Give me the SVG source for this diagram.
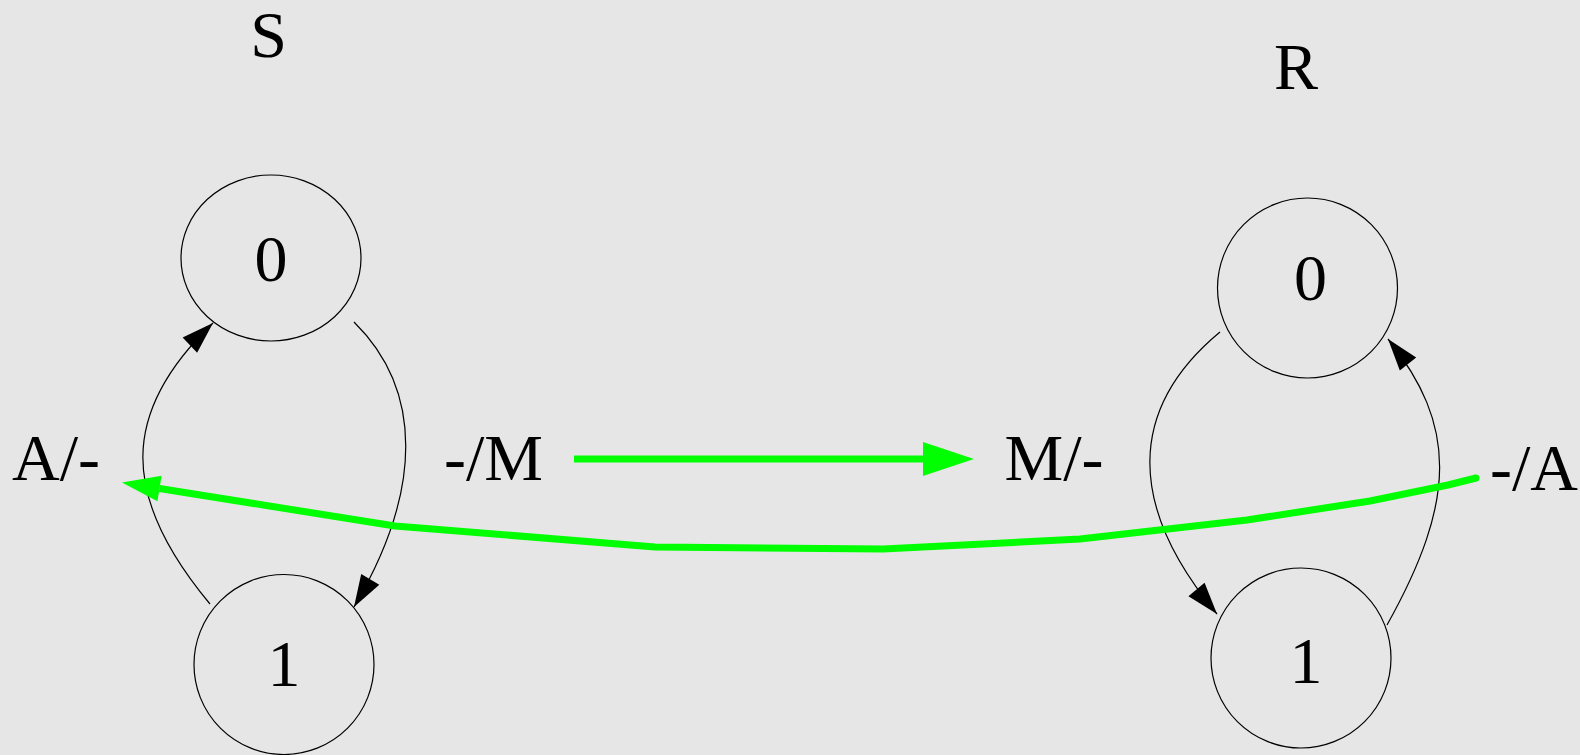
<svg xmlns="http://www.w3.org/2000/svg" width="1580" height="755" viewBox="0 0 1580 755">
<style>
.node{fill:none;stroke:#000;stroke-width:1.2}
.lbl{font-family:"Liberation Serif","Times New Roman",serif;font-size:66px;fill:#000;text-anchor:middle}
.arc{fill:none;stroke:#000;stroke-width:1.2}
.msg{fill:none;stroke:#00ff00;stroke-width:7}
</style>
<defs>
<marker id="ah" markerUnits="userSpaceOnUse" markerWidth="34" markerHeight="22" refX="32" refY="10.5" orient="auto" overflow="visible">
<path d="M0,0 L32,10.5 L0,21 Z" fill="#000"/>
</marker>
<marker id="gbig" markerUnits="userSpaceOnUse" markerWidth="52" markerHeight="35" refX="0" refY="17" orient="auto" overflow="visible">
<path d="M0,0 L51,17 L0,34 Z" fill="#00ff00"/>
</marker>
<marker id="gsmall" markerUnits="userSpaceOnUse" markerWidth="39" markerHeight="27" refX="0" refY="13" orient="auto" overflow="visible">
<path d="M0,0 L38,13 L0,26 Z" fill="#00ff00"/>
</marker>
</defs>
<rect x="0" y="0" width="1580" height="755" fill="#e6e6e6"/>
<text class="lbl" x="268.5" y="57">S</text>
<text class="lbl" x="1296" y="89">R</text>
<g id="S0">
<ellipse class="node" cx="271" cy="258" rx="90" ry="83"/>
<text class="lbl" x="271" y="281">0</text>
</g>
<g id="S1">
<circle class="node" cx="284" cy="664.5" r="90"/>
<text class="lbl" x="284" y="686">1</text>
</g>
<g id="R0">
<circle class="node" cx="1307.5" cy="288" r="90"/>
<text class="lbl" x="1310.5" y="300">0</text>
</g>
<g id="R1">
<circle class="node" cx="1301" cy="658" r="90"/>
<text class="lbl" x="1306" y="683">1</text>
</g>
<g id="connectors">
<path class="arc" d="M210,604 C120,496 120,412 213,323" marker-end="url(#ah)"/>
<path class="arc" d="M354,322 C423,390 423,490 354,607" marker-end="url(#ah)"/>
<path class="arc" d="M1220,332 C1127,409 1127,506 1217,614" marker-end="url(#ah)"/>
<path class="arc" d="M1387,625 C1457,500 1457,425 1388,339" marker-end="url(#ah)"/>
<path class="msg" d="M574,459 L923,459" marker-end="url(#gbig)"/>
<path class="msg" stroke-linejoin="round" d="M1476,478 L1448,485 L1370,501 L1247,520 L1080,539 L883,549 L655,547 L395,526 L159.5,488.5" marker-end="url(#gsmall)"/>
<circle cx="1476" cy="478" r="3.5" fill="#00ff00"/>
</g>
<text class="lbl" x="56" y="480">A/-</text>
<text class="lbl" x="493.5" y="480">-/M</text>
<text class="lbl" x="1054" y="480">M/-</text>
<text class="lbl" x="1534" y="490">-/A</text>
</svg>
